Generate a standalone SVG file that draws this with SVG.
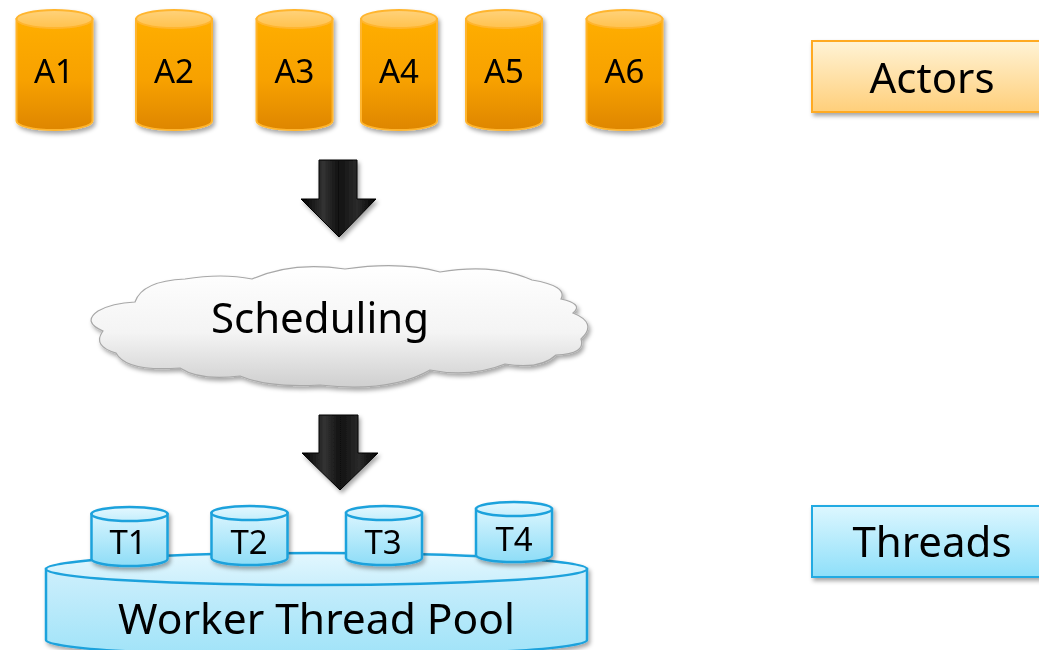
<svg xmlns="http://www.w3.org/2000/svg" width="1039" height="650" viewBox="0 0 1039 650">
<defs>
<linearGradient id="gOrange" x1="0" y1="0" x2="0" y2="1"><stop offset="0" stop-color="#FFAE00"/><stop offset="0.55" stop-color="#F7A100"/><stop offset="1" stop-color="#DE8600"/></linearGradient>
<linearGradient id="gOrangeTop" x1="0" y1="0" x2="0" y2="1"><stop offset="0" stop-color="#FFD27A"/><stop offset="1" stop-color="#FFC24D"/></linearGradient>
<linearGradient id="gActorsBox" x1="0" y1="0" x2="0" y2="1"><stop offset="0" stop-color="#FFF3D6"/><stop offset="1" stop-color="#FFCF7A"/></linearGradient>
<linearGradient id="gBlue" x1="0" y1="0" x2="0" y2="1"><stop offset="0" stop-color="#D9F5FE"/><stop offset="1" stop-color="#8EDDF7"/></linearGradient>
<linearGradient id="gBlueTop" x1="0" y1="0" x2="0" y2="1"><stop offset="0" stop-color="#E4F8FF"/><stop offset="1" stop-color="#C4EEFC"/></linearGradient>
<linearGradient id="gPool" x1="0" y1="0" x2="0" y2="1"><stop offset="0" stop-color="#CDEFFC"/><stop offset="1" stop-color="#A0E3F8"/></linearGradient>
<linearGradient id="gPoolTop" x1="0" y1="0" x2="0" y2="1"><stop offset="0" stop-color="#E2F7FE"/><stop offset="1" stop-color="#CBEFFC"/></linearGradient>
<linearGradient id="gThreadsBox" x1="0" y1="0" x2="0" y2="1"><stop offset="0" stop-color="#DDF7FF"/><stop offset="1" stop-color="#8EDFF9"/></linearGradient>
<linearGradient id="gCloud" x1="0" y1="0" x2="0" y2="1"><stop offset="0" stop-color="#FFFFFF"/><stop offset="0.55" stop-color="#F4F4F4"/><stop offset="1" stop-color="#CFCFCF"/></linearGradient>
<linearGradient id="gArrow" x1="0" y1="0" x2="1" y2="0"><stop offset="0" stop-color="#000"/><stop offset="0.3" stop-color="#333"/><stop offset="0.5" stop-color="#111"/><stop offset="0.75" stop-color="#2a2a2a"/><stop offset="1" stop-color="#000"/></linearGradient>
<filter id="shadow" x="-20%" y="-20%" width="140%" height="150%"><feDropShadow dx="2" dy="3" stdDeviation="2" flood-color="#000" flood-opacity="0.35"/></filter>
<style>
.lbl{font-family:"Noto Sans","Open Sans","DejaVu Sans",sans-serif;fill:#000;text-anchor:middle}
.actor{fill:url(#gOrange);stroke:#FFB52E;stroke-width:2}
.actorTop{fill:url(#gOrangeTop);stroke:#FFB52E;stroke-width:2}
.thread{fill:url(#gBlue);stroke:#1EA2DC;stroke-width:2.5}
.threadTop{fill:url(#gBlueTop);stroke:#1EA2DC;stroke-width:2.5}
.pool{fill:url(#gPool);stroke:#1EA2DC;stroke-width:2.5}
.poolTop{fill:url(#gPoolTop);stroke:#1EA2DC;stroke-width:2.5}
.arrow{fill:url(#gArrow);stroke:#000;stroke-width:1}
</style>
</defs>
<rect width="1039" height="650" fill="#fff"/>

<g id="A1" filter="url(#shadow)"><path class="actor" d="M16.5,19 V121 A38,9 0 0 0 92.5,121 V19 Z"/><ellipse class="actorTop" cx="54.5" cy="19" rx="38" ry="9"/><text class="lbl" x="54" y="83" font-size="33">A1</text></g>
<g id="A2" filter="url(#shadow)"><path class="actor" d="M136,19 V121 A38,9 0 0 0 212,121 V19 Z"/><ellipse class="actorTop" cx="174" cy="19" rx="38" ry="9"/><text class="lbl" x="174" y="83" font-size="33">A2</text></g>
<g id="A3" filter="url(#shadow)"><path class="actor" d="M256.5,19 V121 A38,9 0 0 0 332.5,121 V19 Z"/><ellipse class="actorTop" cx="294.5" cy="19" rx="38" ry="9"/><text class="lbl" x="294.5" y="83" font-size="33">A3</text></g>
<g id="A4" filter="url(#shadow)"><path class="actor" d="M361,19 V121 A38,9 0 0 0 437,121 V19 Z"/><ellipse class="actorTop" cx="399" cy="19" rx="38" ry="9"/><text class="lbl" x="399" y="83" font-size="33">A4</text></g>
<g id="A5" filter="url(#shadow)"><path class="actor" d="M466,19 V121 A38,9 0 0 0 542,121 V19 Z"/><ellipse class="actorTop" cx="504" cy="19" rx="38" ry="9"/><text class="lbl" x="504" y="83" font-size="33">A5</text></g>
<g id="A6" filter="url(#shadow)"><path class="actor" d="M586.5,19 V121 A38,9 0 0 0 662.5,121 V19 Z"/><ellipse class="actorTop" cx="624.5" cy="19" rx="38" ry="9"/><text class="lbl" x="624.5" y="83" font-size="33">A6</text></g>

<g id="actors-legend" filter="url(#shadow)"><rect x="812" y="41" width="240" height="71" fill="url(#gActorsBox)" stroke="#FFAA22" stroke-width="2"/><text class="lbl" x="932" y="93" font-size="42">Actors</text></g>

<g id="scheduling" filter="url(#shadow)">
<path d="M103,331 Q82,322 98,311 Q112,303 135,302 Q142,281 185,279 Q222,273 252,279 Q292,261 345,269 Q400,261 440,272 Q494,263 532,280 Q568,286 561,299 Q584,304 573,313 Q598,323 581,339 Q586,354 556,355 Q540,370 505,364 Q470,378 430,370 Q390,393 320,385 Q268,388 240,376 Q200,381 180,368 Q126,372 116,353 Q92,346 103,331 Z" fill="url(#gCloud)" stroke="#A8A8A8" stroke-width="1.2"/>
<text class="lbl" x="320" y="333" font-size="42">Scheduling</text>
</g>

<g id="pool" filter="url(#shadow)">
<path class="pool" d="M46,569 V640 A270.5,16 0 0 0 587,640 V569 Z"/>
<ellipse class="poolTop" cx="316.5" cy="569" rx="270.5" ry="16"/>
<text class="lbl" x="316.5" y="634" font-size="42.5">Worker Thread Pool</text>
</g>

<g id="T1" filter="url(#shadow)"><path class="thread" d="M91.5,514 V559 A38,7 0 0 0 167.5,559 V514 Z"/><ellipse class="threadTop" cx="129.5" cy="514" rx="38" ry="7"/><text class="lbl" x="128" y="554" font-size="33">T1</text></g>
<g id="T2" filter="url(#shadow)"><path class="thread" d="M211.5,513 V558 A38,7 0 0 0 287.5,558 V513 Z"/><ellipse class="threadTop" cx="249.5" cy="513" rx="38" ry="7"/><text class="lbl" x="249" y="554" font-size="33">T2</text></g>
<g id="T3" filter="url(#shadow)"><path class="thread" d="M346,513 V558 A38,7 0 0 0 422,558 V513 Z"/><ellipse class="threadTop" cx="384" cy="513" rx="38" ry="7"/><text class="lbl" x="383" y="554" font-size="33">T3</text></g>
<g id="T4" filter="url(#shadow)"><path class="thread" d="M476,509 V555 A38,7 0 0 0 552,555 V509 Z"/><ellipse class="threadTop" cx="514" cy="509" rx="38" ry="7"/><text class="lbl" x="514" y="551" font-size="33">T4</text></g>

<g id="threads-legend" filter="url(#shadow)"><rect x="812" y="506" width="240" height="71" fill="url(#gThreadsBox)" stroke="#22AAE2" stroke-width="2"/><text class="lbl" x="932" y="557" font-size="42">Threads</text></g>

<g id="connectors" filter="url(#shadow)">
<polygon class="arrow" points="319,160 357,160 357,199 376,199 339,237 301,199 319,199"/>
<polygon class="arrow" points="319,415 358,415 358,453 378,453 340,490 302,453 319,453"/>
</g>
</svg>
